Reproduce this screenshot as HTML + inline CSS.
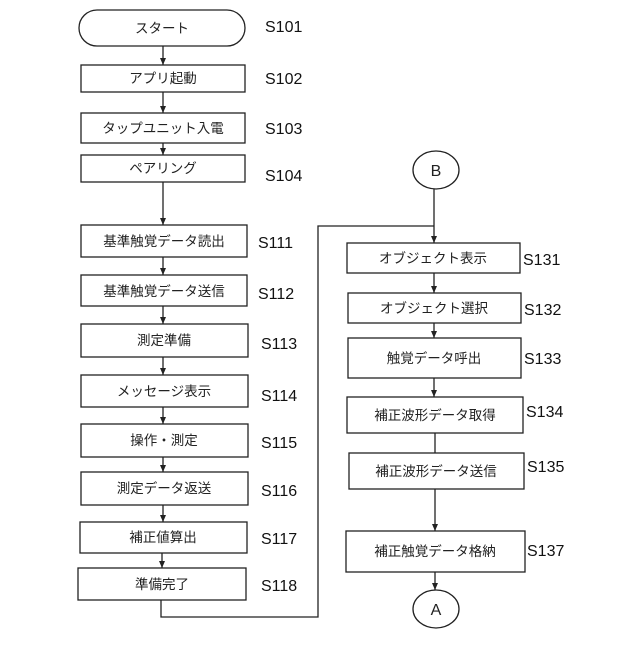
<!DOCTYPE html>
<html><head><meta charset="utf-8"><style>
html,body{margin:0;padding:0;background:#fff;}
svg text{font-family:"Liberation Sans","Noto Sans CJK JP",sans-serif;}
.b{font-size:13.5px;fill:#222;text-anchor:middle;}
.l{font-size:16px;fill:#111;font-family:"Liberation Sans",sans-serif;}
</style></head><body>
<svg width="640" height="640" viewBox="0 0 640 640" xmlns="http://www.w3.org/2000/svg">
<defs><marker id="a" markerWidth="8" markerHeight="8" refX="7" refY="3.5" orient="auto" markerUnits="userSpaceOnUse"><path d="M0,0.5 L7,3.5 L0,6.5 Z" fill="#222"/></marker></defs>
<g stroke="#222" stroke-width="1.3" fill="none">
<rect x="79" y="10" width="166" height="36" rx="18"/>
<rect x="81" y="65" width="164" height="27"/>
<rect x="81" y="113" width="164" height="30"/>
<rect x="81" y="155" width="164" height="27"/>
<rect x="81" y="225" width="166" height="32"/>
<rect x="81" y="275" width="166" height="31"/>
<rect x="81" y="324" width="167" height="33"/>
<rect x="81" y="375" width="167" height="32"/>
<rect x="81" y="424" width="167" height="33"/>
<rect x="81" y="472" width="167" height="33"/>
<rect x="80" y="522" width="167" height="31"/>
<rect x="78" y="568" width="168" height="32"/>
<rect x="347" y="243" width="173" height="30"/>
<rect x="348" y="293" width="173" height="30"/>
<rect x="348" y="338" width="173" height="40"/>
<rect x="347" y="397" width="176" height="36"/>
<rect x="349" y="453" width="175" height="36"/>
<rect x="346" y="531" width="179" height="41"/>
<ellipse cx="436" cy="170" rx="23" ry="19"/>
<ellipse cx="436" cy="609" rx="23" ry="19"/>
<line x1="163" y1="46" x2="163" y2="65" marker-end="url(#a)"/>
<line x1="163" y1="92" x2="163" y2="113" marker-end="url(#a)"/>
<line x1="163" y1="143" x2="163" y2="155" marker-end="url(#a)"/>
<line x1="163" y1="182" x2="163" y2="225" marker-end="url(#a)"/>
<line x1="163" y1="257" x2="163" y2="275" marker-end="url(#a)"/>
<line x1="163" y1="306" x2="163" y2="324" marker-end="url(#a)"/>
<line x1="163" y1="357" x2="163" y2="375" marker-end="url(#a)"/>
<line x1="163" y1="407" x2="163" y2="424" marker-end="url(#a)"/>
<line x1="163" y1="457" x2="163" y2="472" marker-end="url(#a)"/>
<line x1="163" y1="505" x2="163" y2="522" marker-end="url(#a)"/>
<line x1="162" y1="553" x2="162" y2="568" marker-end="url(#a)"/>
<polyline points="161,600 161,617 318,617 318,226 434,226"/>
<line x1="434" y1="189" x2="434" y2="243" marker-end="url(#a)"/>
<line x1="434" y1="273" x2="434" y2="293" marker-end="url(#a)"/>
<line x1="434" y1="323" x2="434" y2="338" marker-end="url(#a)"/>
<line x1="434" y1="378" x2="434" y2="397" marker-end="url(#a)"/>
<line x1="435" y1="433" x2="435" y2="453"/>
<line x1="435" y1="489" x2="435" y2="531" marker-end="url(#a)"/>
<line x1="435" y1="572" x2="435" y2="590" marker-end="url(#a)"/>
</g>
<g class="b">
<text x="162" y="33">スタート</text>
<text x="163" y="83">アプリ起動</text>
<text x="163" y="133">タップユニット入電</text>
<text x="163" y="173">ペアリング</text>
<text x="164" y="246">基準触覚データ読出</text>
<text x="164" y="296">基準触覚データ送信</text>
<text x="164" y="345">測定準備</text>
<text x="164" y="396">メッセージ表示</text>
<text x="164" y="445">操作・測定</text>
<text x="164" y="493">測定データ返送</text>
<text x="163" y="542">補正値算出</text>
<text x="162" y="589">準備完了</text>
<text x="433" y="263">オブジェクト表示</text>
<text x="434" y="313">オブジェクト選択</text>
<text x="434" y="363">触覚データ呼出</text>
<text x="435" y="420">補正波形データ取得</text>
<text x="436" y="476">補正波形データ送信</text>
<text x="435" y="556">補正触覚データ格納</text>
<text x="436" y="176" style="font-size:16px;font-family:'Liberation Sans',sans-serif">B</text>
<text x="436" y="615" style="font-size:16px;font-family:'Liberation Sans',sans-serif">A</text>
</g>
<g class="l">
<text x="265" y="32">S101</text>
<text x="265" y="84">S102</text>
<text x="265" y="134">S103</text>
<text x="265" y="181">S104</text>
<text x="258" y="248">S111</text>
<text x="258" y="299">S112</text>
<text x="261" y="349">S113</text>
<text x="261" y="401">S114</text>
<text x="261" y="448">S115</text>
<text x="261" y="496">S116</text>
<text x="261" y="544">S117</text>
<text x="261" y="591">S118</text>
<text x="523" y="265">S131</text>
<text x="524" y="315">S132</text>
<text x="524" y="364">S133</text>
<text x="526" y="417">S134</text>
<text x="527" y="472">S135</text>
<text x="527" y="556">S137</text>
</g>
</svg>
</body></html>
